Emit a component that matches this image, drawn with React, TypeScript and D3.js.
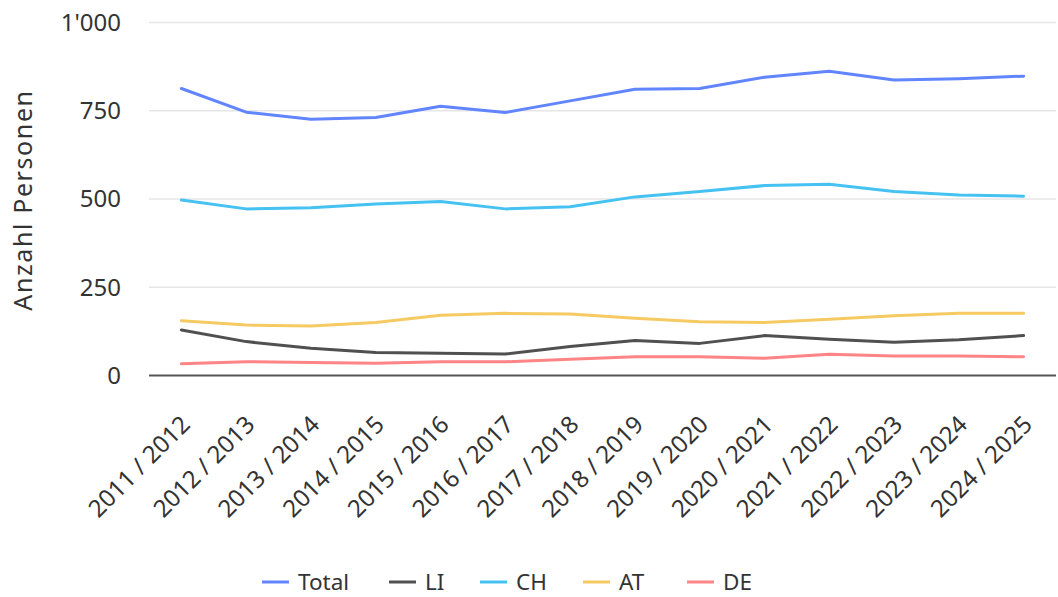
import React from "react";
import * as d3 from "d3";

const categories = [
  "2011 / 2012", "2012 / 2013", "2013 / 2014", "2014 / 2015", "2015 / 2016",
  "2016 / 2017", "2017 / 2018", "2018 / 2019", "2019 / 2020", "2020 / 2021",
  "2021 / 2022", "2022 / 2023", "2023 / 2024", "2024 / 2025",
];
const total = [813, 746, 726, 731, 763, 745, 778, 811, 813, 845, 862, 837, 841, 848];
const li = [129, 96, 77, 65, 63, 61, 82, 99, 91, 113, 103, 94, 101, 113];
const ch = [497, 472, 475, 486, 493, 472, 478, 506, 521, 538, 542, 521, 511, 508];
const at = [155, 143, 140, 150, 171, 176, 174, 162, 152, 150, 159, 169, 176, 176];
const de = [33, 39, 37, 35, 39, 39, 46, 53, 53, 49, 60, 55, 55, 53];
const yTicks = [0, 250, 500, 750, 1000];
const seriesNames = ["Total", "LI", "CH", "AT", "DE"];
const seriesValues = [total, li, ch, at, de];
const seriesColors = ["#6185ff", "#505050", "#45c2f2", "#f6ca62", "#ff8486"];

const W = 1058;
const H = 597;
const FONT = "'Noto Sans', 'Open Sans', sans-serif";

export default function App() {
  const x = d3.scalePoint<string>().domain(categories).range([149, 1056]).padding(0.5);
  const y = d3.scaleLinear().domain([0, 1000]).range([375.5, 22.5]);
  const line = d3
    .line<number>()
    .x((_, i) => x(categories[i]) as number)
    .y((d) => y(d));
  const fmt = (v: number) => (v >= 1000 ? d3.format(",")(v).replace(",", "'") : String(v));
  const legendX = [262, 389, 480, 583, 687];

  return (
    <div style={{ position: "absolute", left: 0, top: 0 }}>
      <svg width={W} height={H} style={{ display: "block", fontFamily: FONT }}>
        <rect width={W} height={H} fill="#ffffff" />
        {yTicks.map((t) =>
          t === 0 ? null : (
            <line key={t} x1={149} x2={1056} y1={y(t)} y2={y(t)} stroke="#e6e6e6" strokeWidth={1.5} />
          )
        )}
        {yTicks.map((t) => (
          <text key={"l" + t} x={121} y={y(t)} dy="0.35em" textAnchor="end" fontSize={24} fill="#333">
            {fmt(t)}
          </text>
        ))}
        <text
          transform={`translate(32,${(90 + 310) / 2}) rotate(-90)`}
          textAnchor="middle"
          fontSize={25}
          letterSpacing={1.6}
          fill="#333"
        >
          Anzahl Personen
        </text>
        {seriesValues.map((vals, k) => (
          <path key={seriesNames[k]} d={line(vals) || ""} fill="none" stroke={seriesColors[k]} strokeWidth={3} strokeLinejoin="round" strokeLinecap="round" />
        ))}
        <line x1={149} x2={1056} y1={y(0)} y2={y(0)} stroke="#555" strokeWidth={2} />
        {categories.map((c) => (
          <text
            key={c}
            transform={`translate(${(x(c) as number) + 10},426) rotate(-45)`}
            textAnchor="end"
            fontSize={24}
            fill="#333"
          >
            {c}
          </text>
        ))}
        {seriesNames.map((n, k) => (
          <g key={"lg" + n} transform={`translate(${legendX[k]},582)`}>
            <line x1={0} x2={27} y1={0} y2={0} stroke={seriesColors[k]} strokeWidth={3} />
            <text x={36} y={0} dy="0.35em" fontSize={22.5} fill="#333">
              {n}
            </text>
          </g>
        ))}
      </svg>
    </div>
  );
}
